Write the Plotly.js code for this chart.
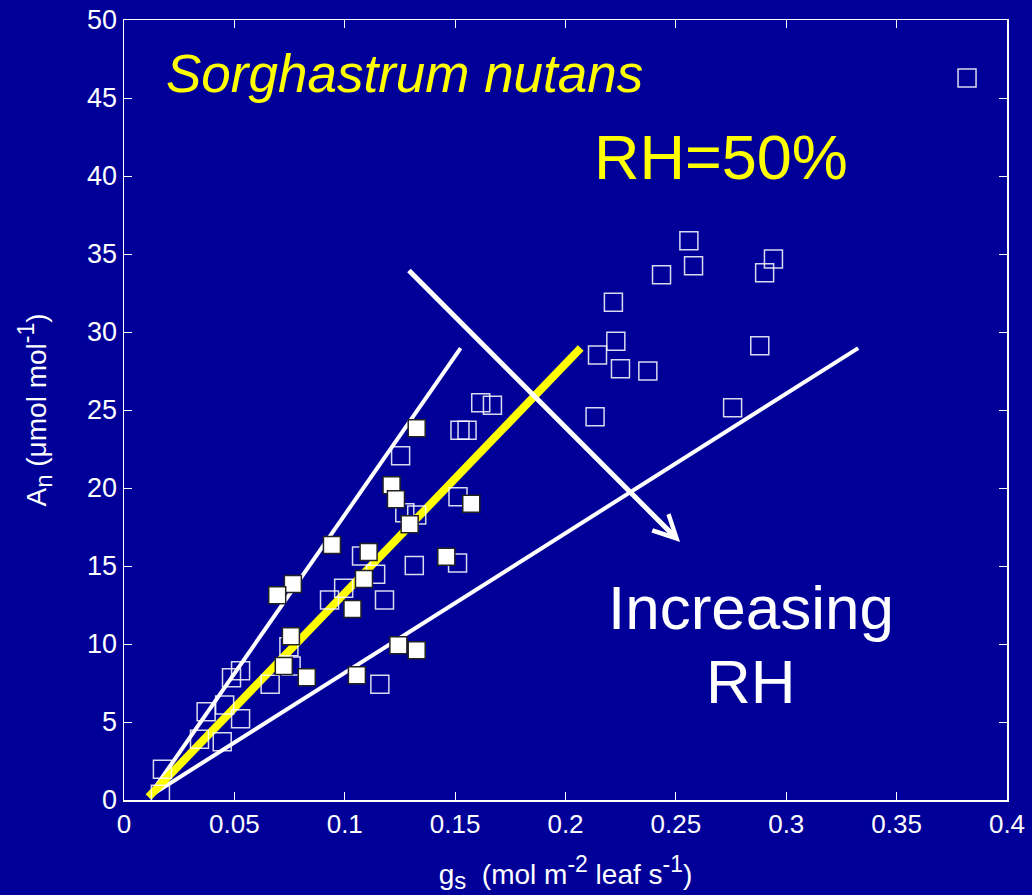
<!DOCTYPE html>
<html>
<head>
<meta charset="utf-8">
<script src="https://cdn.plot.ly/plotly-3.0.1.min.js"></script>
<style>html,body{margin:0;padding:0;background:#000099;}</style>
</head>
<body>
<div id="chart" style="width:1032px;height:895px;"></div>
<script>
// Filled squares (g_s, A_n)
const filledGs = [0.1326,0.1212,0.1232,0.1573,0.1294,0.0942,0.1108,0.1460,0.1087,0.0765,0.0694,0.1035,0.0756,0.1243,0.1326,0.0724,0.0828,0.1055];
const filledAn = [23.83,20.17,19.28,18.99,17.67,16.35,15.90,15.60,14.17,13.85,13.12,12.24,10.49,9.92,9.60,8.59,7.87,7.99];
// Open squares (g_s, A_n)
const openGs = [0.1616,0.1669,0.1522,0.1554,0.1253,0.1513,0.1272,0.1326,0.1076,0.1140,0.1315,0.1511,0.0995,0.0931,0.1180,0.0747,0.0757,0.0528,0.0487,0.0662,0.1159,0.0372,0.0456,0.0528,0.0342,0.0445,0.0174,0.0165,
  0.2559,0.2580,0.2435,0.2942,0.2902,0.2217,0.2228,0.2145,0.2249,0.2373,0.2880,0.2757,0.2134,0.3819];
const openAn = [25.47,25.30,23.70,23.70,22.07,19.44,18.42,18.27,15.64,14.47,15.04,15.19,13.57,12.82,12.82,9.83,8.59,8.29,7.84,7.42,7.42,5.66,6.09,5.21,3.89,3.74,1.97,0.37,
  35.85,34.25,33.67,34.68,33.80,31.90,29.40,28.53,27.65,27.50,29.12,25.15,24.57,46.28];
// Fitted lines (start, end)
const fitGs = [0.0111, 0.2069];
const fitAn = [0.19, 28.97];
const upperGs = [0.0112, 0.1525];
const upperAn = [0.21, 28.96];
const lowerGs = [0.0112, 0.3326];
const lowerAn = [0.21, 28.97];
// Arrow (tail, head)
const arrowGs = [0.1284, 0.2519];
const arrowAn = [34.04, 16.54];

const xTicks = [0,0.05,0.1,0.15,0.2,0.25,0.3,0.35,0.4];
const xTickText = ['0','0.05','0.1','0.15','0.2','0.25','0.3','0.35','0.4'];
const yTicks = [0,5,10,15,20,25,30,35,40,45,50];

const FONT = 'Liberation Sans, Arial, Helvetica, sans-serif';

const traces = [
  {x: upperGs, y: upperAn, mode:'lines', line:{color:'white', width:4}, hoverinfo:'skip'},
  {x: lowerGs, y: lowerAn, mode:'lines', line:{color:'white', width:4}, hoverinfo:'skip'},
  {x: fitGs, y: fitAn, mode:'lines', line:{color:'#ffff00', width:8}, hoverinfo:'skip'},
  {x: openGs, y: openAn, mode:'markers', marker:{symbol:'square-open', size:18, color:'rgba(255,255,255,0.85)', line:{width:1.5}}},
  {x: filledGs, y: filledAn, mode:'markers', marker:{symbol:'square', size:17, color:'white', line:{color:'#222222', width:1.5}}}
];

const layout = {
  width:1032, height:895,
  margin:{l:124, r:25, t:20, b:95},
  paper_bgcolor:'#000099', plot_bgcolor:'#000099',
  showlegend:false,
  font:{family:FONT, color:'white'},
  xaxis:{range:[0,0.4], tickvals:xTicks, ticktext:xTickText, ticks:'inside', ticklen:8, tickcolor:'white',
    showline:true, linecolor:'white', linewidth:1.5, mirror:'ticks', showgrid:false, zeroline:false,
    tickfont:{size:26, color:'white', family:FONT},
    title:{text:'g<sub><span style="font-size:24px">s</span></sub>  (mol m<sup><span style="font-size:23px">-2</span></sup> leaf s<sup><span style="font-size:23px">-1</span></sup>)', font:{size:28, color:'white', family:FONT}, standoff:26}},
  yaxis:{range:[0,50], tickvals:yTicks, ticks:'inside', ticklen:8, tickcolor:'white',
    showline:true, linecolor:'white', linewidth:1.5, mirror:'ticks', showgrid:false, zeroline:false,
    tickfont:{size:27, color:'white', family:FONT},
    title:{text:'A<sub><span style="font-size:24px">n</span></sub> (μmol mol<sup><span style="font-size:23px">-1</span></sup>)', font:{size:28, color:'white', family:FONT}, standoff:32}},
  annotations:[
    {x:arrowGs[1], y:arrowAn[1], ax:arrowGs[0], ay:arrowAn[0], xref:'x', yref:'y', axref:'x', ayref:'y',
     showarrow:true, arrowhead:5, arrowwidth:5, arrowsize:0.9, arrowcolor:'white', standoff:0, text:''},
    {x:0.0183, y:46.6, xref:'x', yref:'y', xanchor:'left', yanchor:'middle', showarrow:false,
     text:'<i>Sorghastrum nutans</i>', font:{size:53, color:'#ffff00', family:FONT}},
    {x:0.2119, y:41.2, xref:'x', yref:'y', xanchor:'left', yanchor:'middle', showarrow:false,
     text:'RH=50%', font:{size:63, color:'#ffff00', family:FONT}},
    {x:0.2842, y:12.37, xref:'x', yref:'y', xanchor:'center', yanchor:'middle', showarrow:false,
     text:'Increasing', font:{size:62, color:'white', family:FONT}},
    {x:0.2842, y:7.6, xref:'x', yref:'y', xanchor:'center', yanchor:'middle', showarrow:false,
     text:'RH', font:{size:62, color:'white', family:FONT}}
  ]
};

Plotly.newPlot('chart', traces, layout, {displayModeBar:false, staticPlot:true});
</script>
</body>
</html>
